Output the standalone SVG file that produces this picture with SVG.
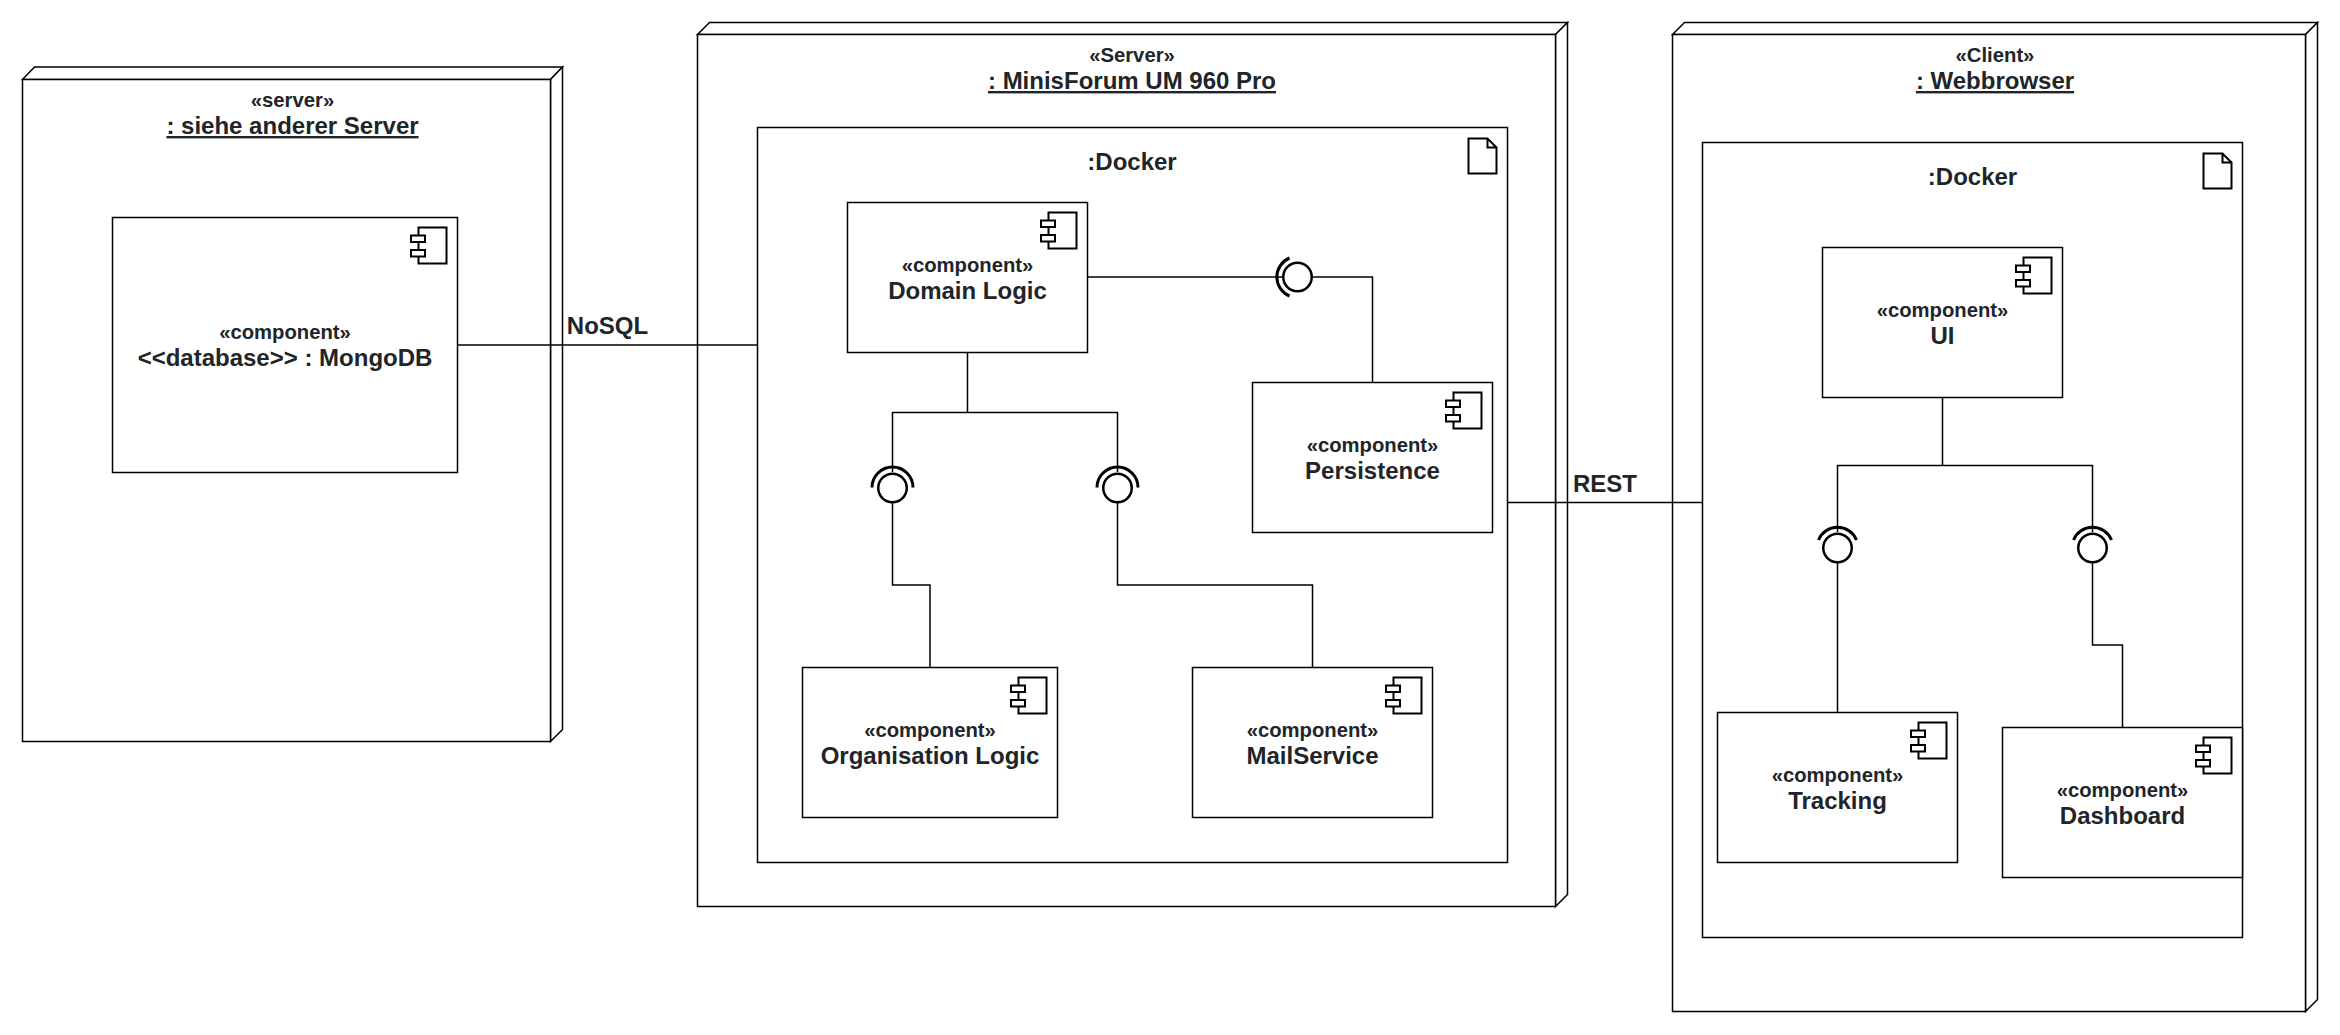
<svg xmlns="http://www.w3.org/2000/svg" xmlns:xlink="http://www.w3.org/1999/xlink" width="2340" height="1035" viewBox="0 0 2340 1035">
<style>
.s{fill:#fff;stroke:#000;stroke-width:1.5}
.c{fill:none;stroke:#000;stroke-width:1.5}
.i{fill:#fff;stroke:#000;stroke-width:2}
.l{fill:#fff;stroke:#000;stroke-width:2.5}
.a{fill:none;stroke:#000;stroke-width:3}
text{font-family:"Liberation Sans",Arial,sans-serif;font-weight:700;fill:#212529;text-anchor:middle}
.t1{font-size:20.25px}
.t2{font-size:24px}
.u{text-decoration:underline}
</style>
<defs>
<g id="ci"><path class="i" d="M-39 10H-11V46H-39Z"/><rect class="i" x="-46.5" y="18" width="14" height="6.5"/><rect class="i" x="-46.5" y="32.5" width="14" height="6.5"/></g>
<path id="fi" class="i" d="M1 1H20L29 10V36H1ZM20 1V10H29"/>
<g id="cu"><path class="a" d="M-19 -8A20.6 20.6 0 0 1 19 -8"/><circle class="l" r="14.25"/></g>
<g id="cs"><path class="a" d="M-20.5 -0.5A20.5 20.5 0 0 1 20.5 -0.5"/><circle class="l" r="14.25"/></g>
</defs>
<g id="node-server-db">
<path class="s" d="M22.5 79.5L34.5 67H562.5L550.5 79.5Z"/><path class="s" d="M562.5 67V729.5L550.5 741.5V79.5Z"/><rect class="s" x="22.5" y="79.5" width="528" height="662"/>
<text class="t1" x="292.5" y="107">«server»</text><text class="t2 u" x="292.5" y="134">: siehe anderer Server</text>
</g>
<g id="node-server-minis">
<path class="s" d="M697.5 34.5L709.5 22.5H1567.5L1555.5 34.5Z"/><path class="s" d="M1567.5 22.5V894.5L1555.5 906.5V34.5Z"/><rect class="s" x="697.5" y="34.5" width="858" height="872"/>
<text class="t1" x="1132" y="62">«Server»</text><text class="t2 u" x="1132" y="89">: MinisForum UM 960 Pro</text>
</g>
<g id="node-client">
<path class="s" d="M1672.5 34.5L1684.5 22.5H2317.5L2305.5 34.5Z"/><path class="s" d="M2317.5 22.5V999.5L2305.5 1011.5V34.5Z"/><rect class="s" x="1672.5" y="34.5" width="633" height="977"/>
<text class="t1" x="1995" y="62">«Client»</text><text class="t2 u" x="1995" y="89">: Webbrowser</text>
</g>
<g id="node-docker-server">
<rect class="s" x="757.5" y="127.5" width="750" height="735"/><use xlink:href="#fi" href="#fi" x="1467.5" y="137.5"/>
<text class="t2" x="1132" y="170">:Docker</text>
</g>
<g id="node-docker-client">
<rect class="s" x="1702.5" y="142.5" width="540" height="795"/><use xlink:href="#fi" href="#fi" x="2202.5" y="152.5"/>
<text class="t2" x="1972.5" y="185">:Docker</text>
</g>
<g id="node-mongodb">
<rect class="s" x="112.5" y="217.5" width="345" height="255"/><use xlink:href="#ci" href="#ci" x="457.5" y="217.5"/>
<text class="t1" x="285" y="339">«component»</text><text class="t2" x="285" y="366">&lt;&lt;database&gt;&gt; : MongoDB</text>
</g>
<g id="node-domain">
<rect class="s" x="847.5" y="202.5" width="240" height="150"/><use xlink:href="#ci" href="#ci" x="1087.5" y="202.5"/>
<text class="t1" x="967.5" y="272">«component»</text><text class="t2" x="967.5" y="299">Domain Logic</text>
</g>
<g id="node-persistence">
<rect class="s" x="1252.5" y="382.5" width="240" height="150"/><use xlink:href="#ci" href="#ci" x="1492.5" y="382.5"/>
<text class="t1" x="1372.5" y="452">«component»</text><text class="t2" x="1372.5" y="479">Persistence</text>
</g>
<g id="node-organisation">
<rect class="s" x="802.5" y="667.5" width="255" height="150"/><use xlink:href="#ci" href="#ci" x="1057.5" y="667.5"/>
<text class="t1" x="930" y="737">«component»</text><text class="t2" x="930" y="764">Organisation Logic</text>
</g>
<g id="node-mailservice">
<rect class="s" x="1192.5" y="667.5" width="240" height="150"/><use xlink:href="#ci" href="#ci" x="1432.5" y="667.5"/>
<text class="t1" x="1312.5" y="737">«component»</text><text class="t2" x="1312.5" y="764">MailService</text>
</g>
<g id="node-ui">
<rect class="s" x="1822.5" y="247.5" width="240" height="150"/><use xlink:href="#ci" href="#ci" x="2062.5" y="247.5"/>
<text class="t1" x="1942.5" y="317">«component»</text><text class="t2" x="1942.5" y="344">UI</text>
</g>
<g id="node-tracking">
<rect class="s" x="1717.5" y="712.5" width="240" height="150"/><use xlink:href="#ci" href="#ci" x="1957.5" y="712.5"/>
<text class="t1" x="1837.5" y="782">«component»</text><text class="t2" x="1837.5" y="809">Tracking</text>
</g>
<g id="node-dashboard">
<rect class="s" x="2002.5" y="727.5" width="240" height="150"/><use xlink:href="#ci" href="#ci" x="2242.5" y="727.5"/>
<text class="t1" x="2122.5" y="797">«component»</text><text class="t2" x="2122.5" y="824">Dashboard</text>
</g>
<g id="connectors">
<path class="c" d="M457.5 345H757.5"/>
<path class="c" d="M1507.5 502.5H1702.5"/>
<path class="c" d="M1087.5 277H1283M1312 277H1372.5V382.5"/>
<path class="c" d="M967.5 352.5V412.5M892.5 472V412.5H1117.5V472"/>
<path class="c" d="M892.5 503V585H930V667.5"/>
<path class="c" d="M1117.5 503V585H1312.5V667.5"/>
<path class="c" d="M1942.5 397.5V465.5M1837.5 532V465.5H2092.5V532"/>
<path class="c" d="M1837.5 563V712.5"/>
<path class="c" d="M2092.5 563V645H2122.5V727.5"/>
<use xlink:href="#cu" href="#cu" transform="translate(1297.5 277) rotate(-90)"/>
<use xlink:href="#cs" href="#cs" x="892.5" y="488"/>
<use xlink:href="#cs" href="#cs" x="1117.5" y="488"/>
<use xlink:href="#cu" href="#cu" x="1837.5" y="548"/>
<use xlink:href="#cu" href="#cu" x="2092.5" y="548"/>
</g>
<g id="connector-labels">
<text class="t2" x="607.5" y="334">NoSQL</text>
<text class="t2" x="1605" y="492">REST</text>
</g>
</svg>
